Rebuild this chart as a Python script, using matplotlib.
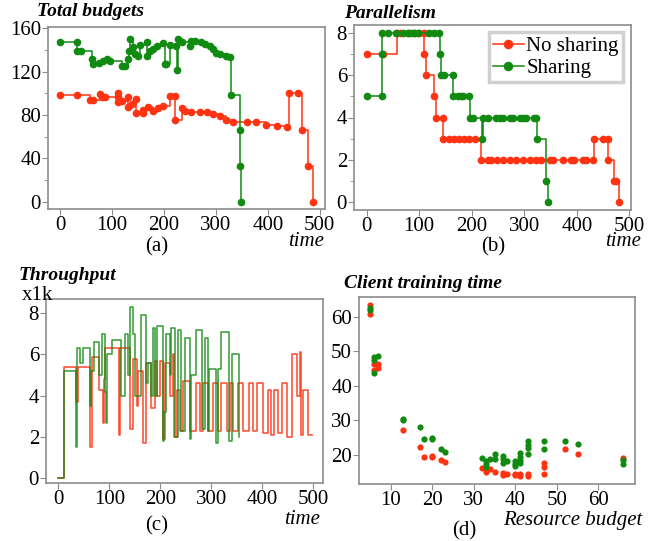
import numpy as np
import matplotlib.pyplot as plt
from matplotlib.ticker import MultipleLocator

plt.rcParams['font.family'] = 'serif'
plt.rcParams['font.serif'] = ['Liberation Serif', 'DejaVu Serif']

RED = '#ff3311'
GREEN = '#118a11'
SPINE = '#8c8c8c'

# (a) total budgets: time, value
t_budget_share = [0, 32, 32, 41, 61, 63, 76, 83, 90, 96, 119, 125, 131, 133, 135, 141, 144, 150,
                  154, 167, 167, 173, 179, 186, 199, 202, 205, 212, 224, 226, 227, 234, 250, 253,
                  260, 272, 279, 288, 295, 301, 308, 320, 327, 330, 346, 346, 349]
v_budget_share = [147, 147, 139, 139, 132, 126.5, 128, 130, 132, 130, 125, 125, 132, 139, 150,
                  142.5, 136, 134.5, 144, 147, 134.5, 139, 140.5, 143.6, 146.6, 127, 127, 144,
                  143.6, 121, 149.5, 147, 143.6, 148, 148, 147, 145, 143.6, 140.5, 137.5, 136,
                  134.5, 133, 98.7, 65.8, 33, 0]
t_budget_noshare = [0, 33, 58, 63, 77, 80, 87, 112, 112, 112, 119, 131, 131, 138, 147, 147, 159,
                    160, 170, 179, 189, 199, 212, 221, 221, 234, 240, 253, 269, 282, 295, 308,
                    320, 333, 359, 378, 397, 417, 436, 440, 458, 465, 477, 486]
v_budget_noshare = [98.7, 98.7, 93.6, 93.6, 99.6, 96.5, 96.5, 100, 96.5, 91.6, 93, 97, 87, 90,
                    95, 82, 82, 85, 87, 84, 86, 88, 97.8, 97.8, 75, 86, 84, 82.5, 82.5, 82.5, 81,
                    79.5, 75, 74, 74, 74, 71, 70, 69, 100, 100, 65.8, 33.5, 0]

# (b) parallelism
t_par_noshare = [0, 31, 57, 64, 78, 90, 100, 110, 110, 113, 129, 132, 145, 146, 157, 167, 176,
                 186, 195, 207, 218, 230, 237, 249, 259, 272, 284, 297, 310, 322, 332, 348, 354,
                 373, 389, 395, 411, 418, 430, 433, 449, 460, 460, 471, 475, 480]
v_par_noshare = [7, 7, 8, 8, 8, 8, 8, 8, 7, 6, 5, 4, 4, 3, 3, 3, 3, 3, 3, 3, 2, 2, 2, 2, 2, 2,
                 2, 2, 2, 2, 2, 2, 2, 2, 2, 2, 2, 2, 2, 3, 3, 3, 2, 1, 1, 0]
t_par_share = [0, 30, 30, 30, 40, 56, 69, 78, 85, 91, 97, 119, 129, 138, 140, 141, 148, 164, 165,
               173, 180, 184, 195, 197, 203, 220, 222, 230, 246, 253, 259, 272, 278, 291, 297,
               303, 319, 322, 325, 341, 346]
v_par_share = [5, 5, 7, 8, 8, 8, 8, 8, 8, 8, 8, 8, 8, 8, 7, 6, 6, 6, 5, 5, 5, 5, 5, 4, 4, 3, 4,
               4, 4, 4, 4, 4, 4, 4, 4, 4, 4, 4, 3, 1, 0]

# (c) throughput (x1k)
t_thr_share = [0, 12, 34, 37, 43, 49, 62, 65, 71, 80, 85, 92, 93, 96, 105, 124, 131, 137, 141,
               147, 150, 163, 173, 176, 181, 186, 189, 194, 205, 207, 212, 219, 222, 229, 235,
               240, 248, 258, 261, 271, 281, 288, 294, 296, 310, 314, 320, 335, 340, 355]
v_thr_share = [0, 5.2, 1.5, 6.3, 5.6, 6.3, 3.5, 5.2, 6.6, 5.0, 7.0, 4.2, 2.7, 6.0, 6.7, 4.0, 7.0,
               5.0, 8.3, 7.0, 4.0, 7.9, 4.6, 5.6, 4.0, 7.3, 4.0, 7.4, 1.8, 3.2, 7.0, 5.0, 7.3,
               2.0, 7.2, 2.3, 6.8, 1.9, 5.0, 7.2, 2.4, 6.8, 2.3, 5.3, 1.7, 5.3, 7.1, 1.8, 6.0, 2.0]
t_thr_noshare = [0, 12, 34, 39, 62, 67, 80, 87, 90, 92, 119, 122, 140, 146, 154, 157, 167, 172,
                 182, 189, 193, 199, 206, 209, 220, 224, 227, 232, 239, 245, 258, 271, 278, 284,
                 294, 304, 314, 320, 330, 337, 343, 353, 363, 373, 382, 389, 402, 412, 418, 422,
                 431, 438, 448, 458, 469, 473, 476, 480, 490, 497]
v_thr_noshare = [0, 5.4, 3.7, 5.4, 1.5, 5.9, 4.3, 2.7, 4.8, 6.3, 2.1, 6.3, 2.4, 5.8, 3.5, 5.2,
                 1.7, 5.6, 3.4, 5.7, 4.0, 5.7, 1.9, 5.6, 4.0, 6.0, 2.0, 4.3, 2.3, 4.7, 2.3, 4.6,
                 2.3, 4.6, 2.3, 4.6, 2.3, 4.6, 2.3, 4.6, 2.3, 4.6, 2.3, 4.6, 2.3, 4.6, 2.2, 4.3,
                 2.1, 4.3, 2.2, 4.6, 2.0, 6.0, 4.0, 6.1, 2.1, 4.3, 2.1, 2.1]

# (d) client training time vs resource budget
rb_noshare = [5, 5, 6, 6, 7, 7, 13, 17, 18, 20, 20, 22, 23, 32, 33, 34, 35, 37, 37, 38, 40, 40,
              41, 41, 43, 43, 47, 47, 47, 52, 55, 66]
ct_noshare = [63.4, 60.8, 46.3, 44.6, 46.3, 45.1, 27.3, 22.2, 19.3, 19.5, 19.8, 18.5, 18.1, 16.3,
              15.2, 16.0, 15.0, 14.7, 14.3, 14.4, 14.6, 14.2, 14.6, 13.9, 14.6, 13.9, 17.7, 16.6,
              14.6, 21.8, 20.2, 19.0]
rb_share = [5, 5, 6, 6, 6, 7, 13, 13, 17, 18, 20, 20, 22, 23, 32, 33, 33, 33, 34, 35, 35, 37, 37,
            37, 38, 40, 40, 40, 41, 41, 41, 41, 43, 43, 43, 43, 47, 47, 52, 55, 66, 66]
ct_share = [62.5, 62.0, 48.4, 47.5, 43.6, 48.5, 30.4, 30.0, 28.1, 24.5, 24.5, 25.0, 21.6, 21.0,
            19.0, 18.2, 17.3, 16.5, 18.8, 20.2, 18.7, 19.6, 18.7, 17.8, 18.2, 18.2, 17.5, 16.7,
            20.5, 19.4, 18.6, 17.7, 23.9, 22.9, 22.0, 20.2, 24.1, 21.7, 23.9, 23.2, 18.6, 17.4]

W, H = 672, 541


def px_axes(fig, left, top, right, bottom):
    return fig.add_axes([left / W, 1 - bottom / H, (right - left) / W, (bottom - top) / H])


def style(ax):
    for s in ax.spines.values():
        s.set_color(SPINE)
        s.set_linewidth(1.2)
    ax.tick_params(which='both', direction='out', color=SPINE, labelsize=15, pad=1)
    ax.tick_params(which='major', length=4)
    ax.tick_params(which='minor', length=3)


def ftext(fig, x, y, s, **kw):
    fig.text(x / W, 1 - y / H, s, **kw)


fig = plt.figure(figsize=(W / 100, H / 100), dpi=100)

title_kw = dict(fontsize=14, fontweight='bold', style='italic', va='center', ha='left')
lab_kw = dict(fontsize=15, va='center', ha='center')
it_kw = dict(fontsize=15, style='italic', va='center', ha='center')

# (a)
ax1 = px_axes(fig, 48, 27, 325, 209)
ax1.plot(t_budget_noshare, v_budget_noshare, drawstyle='steps-post', color=RED, lw=1.1,
         marker='o', ms=4.5, mec=RED, mfc=RED)
ax1.plot(t_budget_share, v_budget_share, drawstyle='steps-post', color=GREEN, lw=1.1,
         marker='o', ms=4.5, mec=GREEN, mfc=GREEN)
ax1.set_xlim(-23, 510)
ax1.set_ylim(-6.5, 161)
ax1.set_xticks([0, 100, 200, 300, 400, 500])
ax1.set_yticks([0, 40, 80, 120, 160])
ax1.yaxis.set_minor_locator(MultipleLocator(20))
style(ax1)
ftext(fig, 37, 12, 'Total budgets', **title_kw)
ftext(fig, 157, 247, '(a)', **lab_kw)
ftext(fig, 306, 242, 'time', **it_kw)

# (b)
ax2 = px_axes(fig, 354, 25, 631, 210)
ax2.plot(t_par_noshare, v_par_noshare, drawstyle='steps-post', color=RED, lw=1.1,
         marker='o', ms=4.5, label='No sharing')
ax2.plot(t_par_share, v_par_share, drawstyle='steps-post', color=GREEN, lw=1.1,
         marker='o', ms=4.5, label='Sharing')
ax2.set_xlim(-24, 503)
ax2.set_ylim(-0.39, 8.39)
ax2.set_xticks([0, 100, 200, 300, 400, 500])
ax2.set_yticks([0, 2, 4, 6, 8])
ax2.yaxis.set_minor_locator(MultipleLocator(1))
style(ax2)
leg = ax2.legend(loc='upper right', bbox_to_anchor=(0.97, 0.96), fontsize=15,
                 handlelength=1.5, handletextpad=0.1, borderpad=0.2, labelspacing=0.1,
                 borderaxespad=0, fancybox=False, framealpha=1, markerscale=1.3)
leg.get_frame().set_edgecolor('#d0d0d0')
leg.get_frame().set_linewidth(2.5)
ftext(fig, 344, 13, 'Parallelism', **title_kw)
ftext(fig, 493, 247, '(b)', **lab_kw)
ftext(fig, 623, 242, 'time', **it_kw)

# (c)
ax3 = px_axes(fig, 46, 299, 323, 483)
ax3.plot(t_thr_noshare, v_thr_noshare, drawstyle='steps-post', color=RED, lw=1.1, alpha=0.9)
ax3.plot(t_thr_share, v_thr_share, drawstyle='steps-post', color=GREEN, lw=1.1, alpha=0.85)
ax3.set_xlim(-24, 519)
ax3.set_ylim(-0.23, 8.69)
ax3.set_xticks([0, 100, 200, 300, 400, 500])
ax3.set_yticks([0, 2, 4, 6, 8])
style(ax3)
ftext(fig, 19, 275, 'Throughput', **title_kw)
ftext(fig, 37, 296, 'x1k', **lab_kw)
ftext(fig, 157, 526, '(c)', **lab_kw)
ftext(fig, 302, 519, 'time', **it_kw)

# (d)
ax4 = px_axes(fig, 359, 297, 635, 484)
ax4.scatter(rb_noshare, ct_noshare, s=20, color=RED, linewidths=0, zorder=3)
ax4.scatter(rb_share, ct_share, s=20, color=GREEN, linewidths=0, zorder=3)
ax4.set_xlim(2.35, 68.8)
ax4.set_ylim(11.6, 65.7)
ax4.set_xticks([10, 20, 30, 40, 50, 60])
ax4.set_yticks([20, 30, 40, 50, 60])
style(ax4)
ftext(fig, 344, 284, 'Client training time', **title_kw)
ftext(fig, 464, 531, '(d)', **lab_kw)
ftext(fig, 573, 521, 'Resource budget', **it_kw)

fig.savefig('out.png', dpi=100)
